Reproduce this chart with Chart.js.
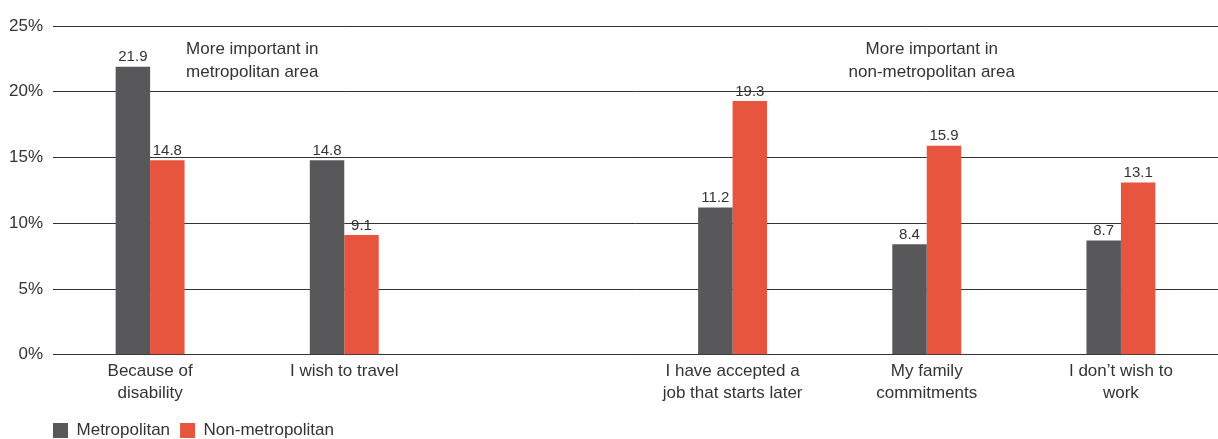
<!DOCTYPE html>
<html>
<head>
<meta charset="utf-8">
<script src="https://cdn.jsdelivr.net/npm/chart.js@4"></script>
<style>
  html, body { margin: 0; padding: 0; background: #fff; }
  #wrap { width: 1218px; height: 439px; position: relative; }
</style>
</head>
<body>
<div id="wrap"><canvas id="chartRazones"></canvas></div>
<script>
// categorias (la tercera vacia deja el hueco entre grupos)
const categorias = [
  ["Because of", "disability"],
  "I wish to travel",
  "",
  ["I have accepted a", "job that starts later"],
  ["My family", "commitments"],
  ["I don\u2019t wish to", "work"],
];
const metropolitano = [21.9, 14.8, null, 11.2, 8.4, 8.7];
const noMetropolitano = [14.8, 9.1, null, 19.3, 15.9, 13.1];
const ticksY = [0, 5, 10, 15, 20, 25];

const FUENTE = "'Liberation Sans', Arial, sans-serif";
Chart.defaults.font.family = FUENTE;
Chart.defaults.color = "#333";

// etiquetas de valor encima de cada barra
const etiquetasValor = {
  id: "etiquetasValor",
  afterDatasetsDraw(chart) {
    const ctx = chart.ctx;
    ctx.save();
    ctx.font = "15px " + FUENTE;
    ctx.fillStyle = "#333";
    ctx.textAlign = "center";
    ctx.textBaseline = "bottom";
    chart.data.datasets.forEach((ds, i) => {
      chart.getDatasetMeta(i).data.forEach((bar, j) => {
        if (ds.data[j] == null) return;
        ctx.fillText(ds.data[j].toFixed(1), bar.x, bar.y - 2);
      });
    });
    ctx.restore();
  },
};

// notas "More important in ..."
const notas = {
  id: "notas",
  afterDatasetsDraw(chart) {
    const ctx = chart.ctx;
    const x = chart.scales.x;
    const y = chart.scales.y;
    ctx.save();
    ctx.font = "17px " + FUENTE;
    ctx.fillStyle = "#333";
    ctx.textBaseline = "middle";
    const y1 = y.getPixelForValue(23.25);
    const y2 = y.getPixelForValue(21.5);
    ctx.textAlign = "left";
    const xa = x.getPixelForValue(0) + 36;
    ctx.fillText("More important in", xa, y1);
    ctx.fillText("metropolitan area", xa, y2);
    ctx.textAlign = "center";
    const xb = x.getPixelForValue(4) + 5;
    ctx.fillText("More important in", xb, y1);
    ctx.fillText("non-metropolitan area", xb, y2);
    ctx.restore();
  },
};

// la leyenda arranca alineada con el eje
const moverLeyenda = {
  id: "moverLeyenda",
  afterLayout(chart) {
    if (!chart.legend) return;
    chart.legend.left = chart.chartArea.left - 10;
    chart.legend.top += 11;
  },
};

new Chart(document.getElementById("chartRazones"), {
  type: "bar",
  data: {
    labels: categorias,
    datasets: [
      {
        label: "Metropolitan",
        data: metropolitano,
        backgroundColor: "#58585a",
        categoryPercentage: 0.355,
        barPercentage: 1,
      },
      {
        label: "Non-metropolitan",
        data: noMetropolitano,
        backgroundColor: "#e8553e",
        categoryPercentage: 0.355,
        barPercentage: 1,
      },
    ],
  },
  options: {
    responsive: true,
    maintainAspectRatio: false,
    animation: false,
    layout: { padding: { top: 26, right: 0, left: -1, bottom: 1 } },
    plugins: {
      legend: {
        position: "bottom",
        align: "start",
        labels: {
          boxWidth: 15,
          boxHeight: 15,
          padding: 10,
          color: "#333",
          font: { size: 17 },
        },
      },
      tooltip: { enabled: false },
    },
    scales: {
      x: {
        grid: { display: false },
        border: { display: false },
        ticks: {
          color: "#333",
          font: { size: 17, lineHeight: 1.3 },
          maxRotation: 0,
          padding: -3,
        },
      },
      y: {
        min: 0,
        max: 25,
        afterBuildTicks: (axis) => {
          axis.ticks = ticksY.map((v) => ({ value: v }));
        },
        border: { display: false },
        grid: { color: "#333", lineWidth: 1, tickLength: 0, drawTicks: false },
        ticks: {
          color: "#333",
          font: { size: 17 },
          padding: 10,
          callback: (v) => v + "%",
        },
      },
    },
  },
  plugins: [etiquetasValor, notas, moverLeyenda],
});
</script>
</body>
</html>
